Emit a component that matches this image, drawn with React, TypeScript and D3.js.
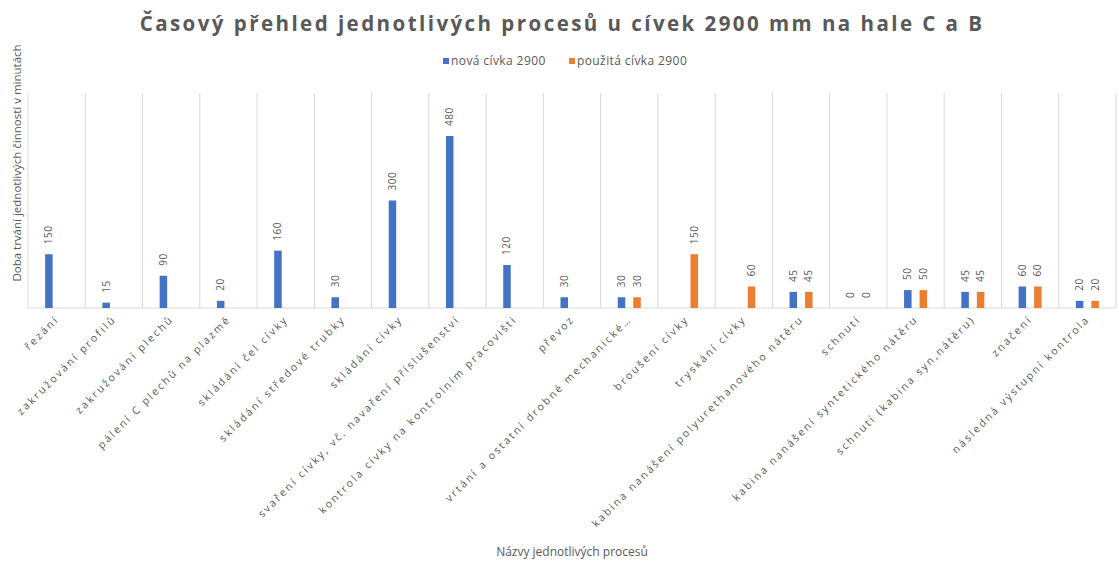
import React from "react";
import * as d3 from "d3";

const categories: string[] = [
  "řezání",
  "zakružování profilů",
  "zakružování plechů",
  "pálení C plechů na plazmě",
  "skládání čel cívky",
  "skládání středové trubky",
  "skládání cívky",
  "svaření cívky, vč. navaření příslušenství",
  "kontrola cívky na kontrolním pracovišti",
  "převoz",
  "vrtání a ostatní drobné mechanické…",
  "broušení cívky",
  "tryskání cívky",
  "kabina nanášení polyurethanového nátěru",
  "schnutí",
  "kabina nanášení syntetického nátěru",
  "schnutí (kabina syn,nátěru)",
  "značení",
  "následná výstupní kontrola",
];

const novaCivka: (number | null)[] = [150, 15, 90, 20, 160, 30, 300, 480, 120, 30, 30, null, null, 45, 0, 50, 45, 60, 20];
const pouzitaCivka: (number | null)[] = [null, null, null, null, null, null, null, null, null, null, 30, 150, 60, 45, 0, 50, 45, 60, 20];

const seriesNames: string[] = ["nová cívka 2900", "použitá cívka 2900"];
const seriesColors: string[] = ["#4472C4", "#ED7D31"];
const yDomain: number[] = [0, 600];

const W = 1119;
const H = 562;
const left = 28;
const right = 1116;
const top = 93;
const bottom = 308;
const textColor = "#595959";
const font = "'Open Sans', 'Noto Sans', sans-serif";

export default function App() {
  const x0 = d3.scaleBand<string>().domain(categories).range([left, right]).paddingInner(0).paddingOuter(0);
  const step = x0.step();
  const groupW = 23;
  const x1 = d3.scaleBand<string>().domain(seriesNames).range([0, groupW]).paddingInner(0.516).paddingOuter(0);
  const y = d3.scaleLinear().domain(yDomain).range([bottom, top]);
  const data = [novaCivka, pouzitaCivka];

  const boundaries = d3.range(categories.length + 1).map((i) => left + i * step);

  return (
    <svg width={W} height={H} style={{ position: "absolute", left: 0, top: 0, background: "#fff" }} fontFamily={font}>
      <rect x={0} y={0} width={W} height={H} fill="#fff" />
      <text x={562} y={31} textAnchor="middle" fontSize={20.5} fontWeight={700} fill={textColor} letterSpacing={2.45}>
        Časový přehled jednotlivých procesů u cívek 2900 mm na hale C a B
      </text>
      {/* legend */}
      <g fontSize={12} fill={textColor} letterSpacing={0.4}>
        <rect x={443} y={58} width={6} height={6} fill={seriesColors[0]} />
        <text x={451} y={65}>{seriesNames[0]}</text>
        <rect x={569} y={58} width={6} height={6} fill={seriesColors[1]} />
        <text x={577} y={65}>{seriesNames[1]}</text>
      </g>
      {/* gridlines */}
      {boundaries.map((bx, i) => (
        <line key={i} x1={bx} x2={bx} y1={top} y2={bottom} stroke="#d9d9d9" strokeWidth={1} />
      ))}
      <line x1={left} x2={right} y1={bottom} y2={bottom} stroke="#d9d9d9" strokeWidth={1} />
      {/* bars */}
      {data.map((vals, si) =>
        vals.map((v, ci) => {
          if (v === null) return null;
          const cx = (x0(categories[ci]) as number) + (step - groupW) / 2 + (x1(seriesNames[si]) as number);
          const bw = x1.bandwidth();
          const yt = y(v);
          return (
            <g key={`${si}-${ci}`}>
              {v > 0 && <rect x={cx} y={yt} width={bw} height={bottom - yt} fill={seriesColors[si]} />}
              <text
                transform={`translate(${cx + bw / 2 + 3.5},${yt - 10}) rotate(-90)`}
                fontSize={10}
                fill={textColor}
                letterSpacing={0.5}
              >
                {v}
              </text>
            </g>
          );
        })
      )}
      {/* x labels */}
      {categories.map((c, i) => {
        const cx = (x0(c) as number) + step / 2;
        return (
          <text
            key={c}
            transform={`translate(${cx + 3},${bottom + 12}) rotate(-45)`}
            textAnchor="end"
            fontSize={10.5}
            fill={textColor}
            letterSpacing={2.2}
          >
            {c}
          </text>
        );
      })}
      <text x={572} y={556} textAnchor="middle" fontSize={12} fill={textColor}>
        Názvy jednotlivých procesů
      </text>
      <text transform={`translate(21,163) rotate(-90)`} textAnchor="middle" fontSize={11.5} fill={textColor}>
        Doba trvání jednotlivých činností v minutách
      </text>
    </svg>
  );
}
